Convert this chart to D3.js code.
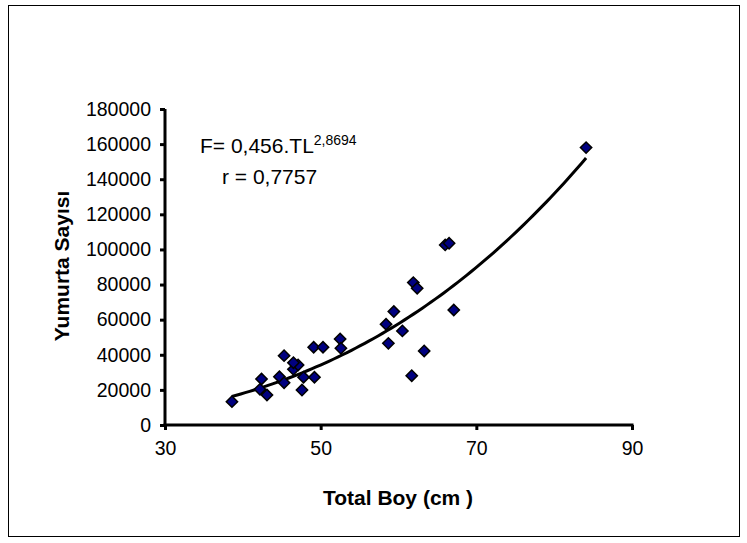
<!DOCTYPE html>
<html><head><meta charset="utf-8">
<script src="https://cdn.jsdelivr.net/npm/d3@7"></script>
<style>body{margin:0;background:#fff}svg{display:block}</style>
</head><body>
<svg id="c" width="747" height="543"></svg>
<script>
const lengths = [38.6,42.4,42.2,43.1,44.7,45.3,46.5,47.1,47.8,49.2,47.6,45.3,46.5,49.1,50.3,52.5,52.6,58.4,59.4,58.7,60.5,61.7,61.9,62.4,63.3,66.0,66.5,67.1,84.1];
const eggs =    [13300,26200,20300,17100,27500,24100,31700,34200,27200,27200,19900,39500,35500,44300,44300,49000,43700,57400,64600,46500,53600,28100,81100,77900,42200,102600,103500,65500,158000];
const xTicks = [30,50,70,90];
const yTicks = [0,20000,40000,60000,80000,100000,120000,140000,160000,180000];
const trendCoef = [0.456, 2.8694];
const xTitle = "Total Boy (cm )";
const yTitle = "Yumurta Sayısı";

const svg = d3.select("#c");
svg.append("rect").attr("x",8.5).attr("y",5.5).attr("width",731).attr("height",531)
  .attr("fill","#fff").attr("stroke","#000").attr("stroke-width",1);

const x = d3.scaleLinear().domain([30,90]).range([165,632]);
const y = d3.scaleLinear().domain([0,180000]).range([425,109]);
const font = "Arial, 'Liberation Sans', sans-serif";

// y axis
const ya = svg.append("g").attr("transform","translate(165,0)")
  .call(d3.axisLeft(y).tickValues(yTicks).tickFormat(d3.format("d")).tickSize(5).tickPadding(9));
ya.select(".domain").attr("stroke","#000").attr("stroke-width",3).attr("d","M0,"+y(180000)+"V"+(y(0)+1.5));
ya.selectAll(".tick line").attr("stroke","#000").attr("stroke-width",3);
ya.selectAll(".tick text").attr("font-family",font).attr("font-size",19.5).attr("fill","#000");

// x axis
const xa = svg.append("g").attr("transform","translate(0,425)")
  .call(d3.axisBottom(x).tickValues(xTicks).tickFormat(d3.format("d")).tickSize(5).tickPadding(11));
xa.select(".domain").attr("stroke","#000").attr("stroke-width",3).attr("d","M"+(x(30)-1.5)+",0H"+(x(90)+1.5));
xa.selectAll(".tick line").attr("stroke","#000").attr("stroke-width",3);
xa.selectAll(".tick text").attr("font-family",font).attr("font-size",19.5).attr("fill","#000");

// titles
svg.append("text").attr("x",398).attr("y",505).attr("text-anchor","middle")
  .attr("font-family",font).attr("font-weight","bold").attr("font-size",21).text(xTitle);
svg.append("text").attr("transform","translate(69,266) rotate(-90)").attr("text-anchor","middle")
  .attr("font-family",font).attr("font-weight","bold").attr("font-size",21).text(yTitle);

// trend line (from the chart's stated power equation)
const xmin = d3.min(lengths), xmax = d3.max(lengths);
const tl = d3.range(xmin, xmax+0.001, (xmax-xmin)/80);
const line = d3.line().x(d=>x(d)).y(d=>y(trendCoef[0]*Math.pow(d,trendCoef[1])));
svg.append("path").attr("d",line(tl)).attr("fill","none").attr("stroke","#000").attr("stroke-width",3);

// markers
svg.append("g").selectAll("path").data(lengths.map((v,i)=>[v,eggs[i]])).join("path")
  .attr("transform",d=>`translate(${x(d[0])},${y(d[1])}) rotate(45)`)
  .attr("d",d3.symbol().type(d3.symbolSquare).size(64)())
  .attr("fill","#000080").attr("stroke","#000").attr("stroke-width",1.5);

// annotation
const t1 = svg.append("text").attr("x",200).attr("y",153).attr("font-family",font).attr("font-size",21);
t1.append("tspan").text("F= 0,456.TL");
t1.append("tspan").attr("font-size",14).attr("dy",-8).text("2,8694");
svg.append("text").attr("x",222).attr("y",184).attr("font-family",font).attr("font-size",21).text("r = 0,7757");
</script>
</body></html>
